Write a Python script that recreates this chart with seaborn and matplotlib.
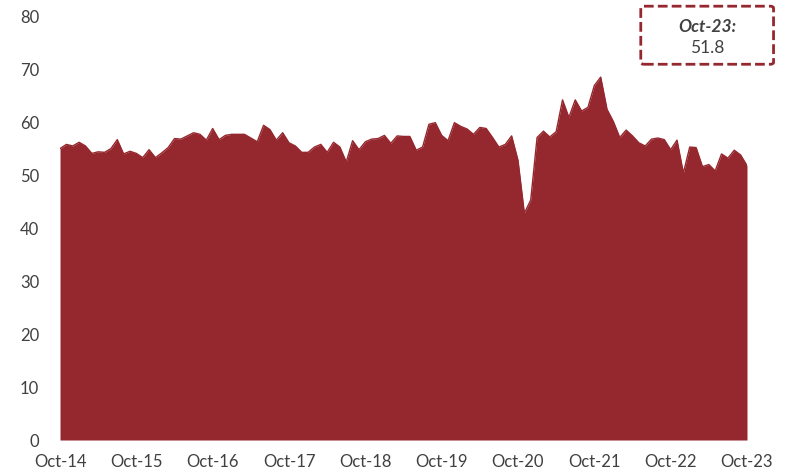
#Libraries----------------------------------------------------------------------

import numpy as np
import pandas as pd
import seaborn as sns
import matplotlib.pyplot as plt
from matplotlib.patches import FancyBboxPatch

#Data----------------------------------------------------------------------------

# monthly values, Oct-14 .. Oct-23
values = [
    55.0, 55.8, 55.5, 56.2, 55.5, 54.1, 54.4, 54.3, 55.0, 56.7, 54.0, 54.5,
    54.1, 53.3, 54.8, 53.3, 54.2, 55.2, 56.9, 56.8, 57.4, 58.0, 57.7, 56.6,
    58.8, 56.7, 57.5, 57.7, 57.7, 57.7, 57.0, 56.3, 59.4, 58.6, 56.6, 58.0,
    56.1, 55.5, 54.3, 54.3, 55.3, 55.8, 54.3, 56.2, 55.3, 52.5, 56.5, 54.8,
    56.3, 56.8, 56.9, 57.5, 56.0, 57.4, 57.3, 57.3, 54.7, 55.3, 59.6, 59.9,
    57.5, 56.5, 59.9, 59.2, 58.7, 57.7, 59.0, 58.8, 57.1, 55.3, 55.8, 57.4,
    52.8, 42.8, 45.3, 57.1, 58.3, 57.2, 58.2, 64.2, 60.9, 64.2, 62.1, 62.8,
    66.9, 68.5, 62.4, 60.1, 57.1, 58.5, 57.4, 56.1, 55.5, 56.8, 57.0, 56.7,
    54.8, 56.6, 50.4, 55.3, 55.2, 51.6, 52.0, 50.8, 54.0, 53.2, 54.7, 53.8,
    51.8,
]
tick_labels = ["Oct-14", "Oct-15", "Oct-16", "Oct-17", "Oct-18",
               "Oct-19", "Oct-20", "Oct-21", "Oct-22", "Oct-23"]
y_ticks = [0, 10, 20, 30, 40, 50, 60, 70, 80]
latest_label = "Oct-23:"
latest_value = "51.8"

#Plot----------------------------------------------------------------------------

red = "#95272E"
grey = "#404040"

sns.set_style("white")
plt.rcParams["font.family"] = ["Lato", "DejaVu Sans"]

df = pd.DataFrame({"month": np.arange(len(values)), "value": values})

fig = plt.figure(figsize=(7.95, 4.76), dpi=100)
ax = fig.add_axes([0.0755, 0.0756, 0.8641, 0.8904])

sns.lineplot(data=df, x="month", y="value", color=red, lw=1, ax=ax)
ax.fill_between(df["month"], 0, df["value"], color=red, lw=0)

ax.set_xlim(0, len(values) - 1)
ax.set_ylim(0, 80)
ax.set_xticks(np.arange(0, len(values), 12))
ax.set_xticklabels(tick_labels)
ax.set_yticks(y_ticks)
ax.tick_params(axis="both", length=0, labelsize=12, colors=grey, pad=10)
ax.tick_params(axis="y", pad=15)
ax.set_xlabel("")
ax.set_ylabel("")
sns.despine(ax=ax, left=True, bottom=True)

# callout box with the latest reading
box = FancyBboxPatch((0.806, 0.865), 0.167, 0.122, transform=fig.transFigure,
                     boxstyle="round,pad=0,rounding_size=0.004",
                     facecolor="white", edgecolor=red, lw=2,
                     linestyle=(0, (3.5, 1.5)))
fig.patches.append(box)
fig.text(0.890, 0.943, latest_label, ha="center", va="center",
         fontsize=12.5, fontweight="bold", fontstyle="italic", color=grey)
fig.text(0.890, 0.900, latest_value, ha="center", va="center",
         fontsize=12.5, color=grey)

fig.savefig("out.png", dpi=100)
